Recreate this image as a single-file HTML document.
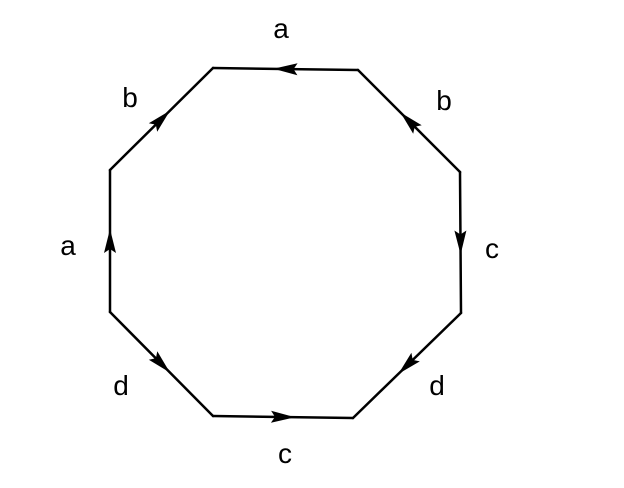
<!DOCTYPE html>
<html><head><meta charset="utf-8"><style>
html,body{margin:0;padding:0;background:#fff;}
svg{display:block;}
text{font-family:"Liberation Sans",sans-serif;font-size:28px;fill:#000;}
</style></head>
<body>
<svg id="fig" width="624" height="488" viewBox="0 0 624 488"></svg>
<script>
const vx = [213, 358, 460, 461, 353, 213, 110, 110];
const vy = [68, 70, 172, 313, 418, 416, 312, 170];
// direction of arrow on edge i (from vertex i to i+1): 1 forward, -1 backward
const arrowDir = [-1, -1, 1, 1, -1, -1, 1, 1];
const labels = ['a','b','c','d','c','d','a','b'];
const lx = [281, 444, 492, 437, 285, 121, 68, 130];
const ly = [38, 110, 258, 395, 463, 395, 255, 107];
const NS = 'http://www.w3.org/2000/svg';
const svg = document.getElementById('fig');
for (let i = 0; i < 8; i++) {
  const j = (i + 1) % 8;
  const ln = document.createElementNS(NS, 'line');
  ln.setAttribute('x1', vx[i]); ln.setAttribute('y1', vy[i]);
  ln.setAttribute('x2', vx[j]); ln.setAttribute('y2', vy[j]);
  ln.setAttribute('stroke', '#000'); ln.setAttribute('stroke-width', '2.5');
  ln.setAttribute('stroke-linecap', 'round');
  
  
  svg.appendChild(ln);
  const mx = (vx[i] + vx[j]) / 2, my = (vy[i] + vy[j]) / 2;
  let dx = vx[j] - vx[i], dy = vy[j] - vy[i];
  const L = Math.hypot(dx, dy); dx = dx / L * arrowDir[i]; dy = dy / L * arrowDir[i];
  const nx = -dy, ny = dx;
  const tipX = mx + dx * 12, tipY = my + dy * 12;
  const bx = mx - dx * 12, by = my - dy * 12;
  const ix = mx - dx * 8, iy = my - dy * 8;
  const pts = [[tipX, tipY], [bx + nx * 6, by + ny * 6], [ix, iy], [bx - nx * 6, by - ny * 6]];
  const p = document.createElementNS(NS, 'polygon');
  p.setAttribute('points', pts.map(q => q[0].toFixed(1) + ',' + q[1].toFixed(1)).join(' '));
  p.setAttribute('fill', '#000');
  
  
  svg.appendChild(p);
  const t = document.createElementNS(NS, 'text');
  t.setAttribute('x', lx[i]); t.setAttribute('y', ly[i]);
  t.setAttribute('text-anchor', 'middle');
  t.textContent = labels[i];
  
  
  svg.appendChild(t);
}
</script>
</body></html>
